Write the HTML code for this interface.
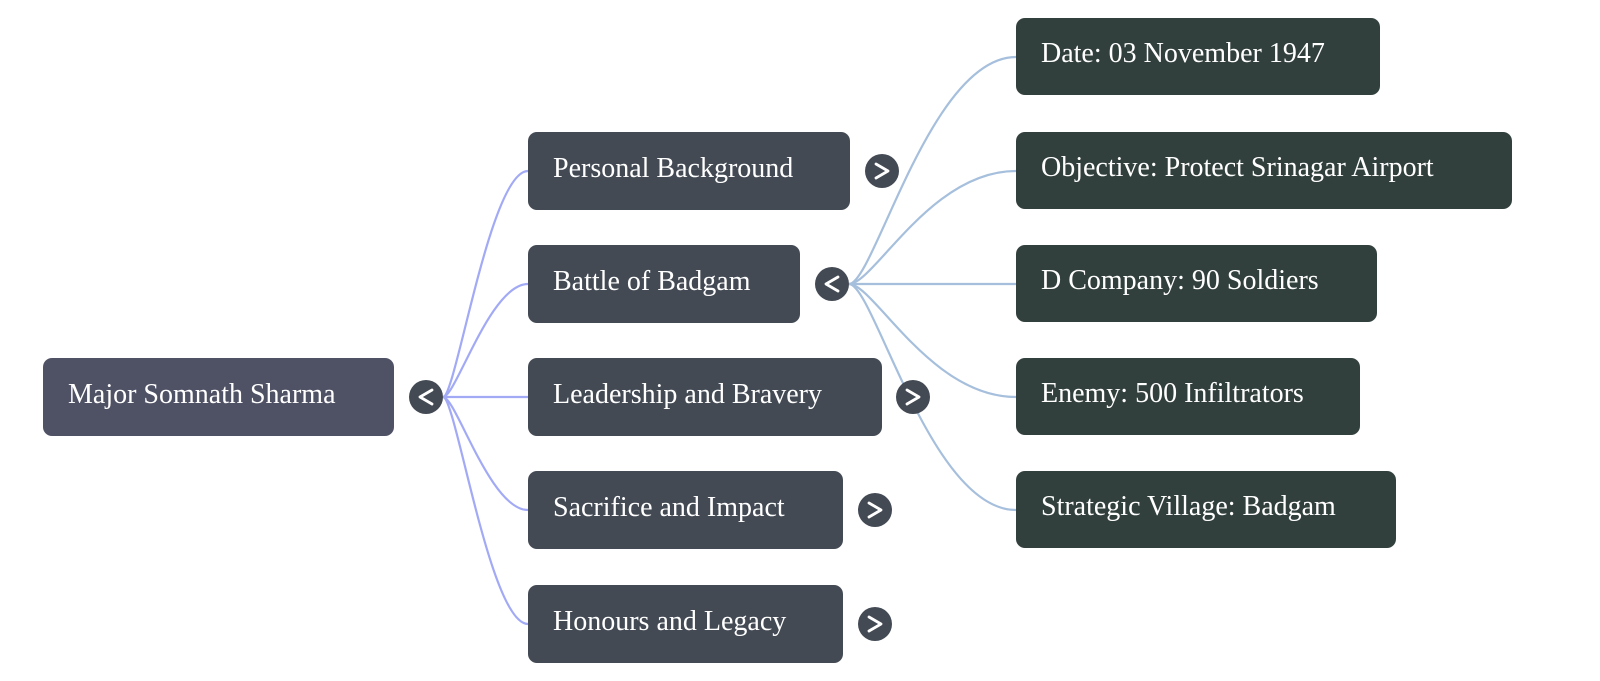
<!DOCTYPE html>
<html><head><meta charset="utf-8"><style>
html,body{margin:0;padding:0;background:#fff;width:1600px;height:681px;overflow:hidden}
</style></head><body>
<svg width="1600" height="681" viewBox="0 0 1600 681" xmlns="http://www.w3.org/2000/svg">
<g fill="none" stroke="#a2aaf6" stroke-width="2.2">
<path d="M443 397 C456 397 490 171 528 171"/>
<path d="M443 397 C456 397 490 284 528 284"/>
<path d="M443 397 L528 397"/>
<path d="M443 397 C456 397 490 510 528 510"/>
<path d="M443 397 C456 397 490 624 528 624"/>
</g>
<g fill="none" stroke="#a6bfdc" stroke-width="2.2">
<path d="M849 284 C874 284 930 57 1016 57"/>
<path d="M849 284 C874 284 930 171 1016 171"/>
<path d="M849 284 L1016 284"/>
<path d="M849 284 C874 284 930 397 1016 397"/>
<path d="M849 284 C874 284 930 510 1016 510"/>
</g>
<g font-family="Liberation Serif, serif" font-size="28" fill="#fff">
<rect x="43" y="358" width="351" height="78" rx="9" fill="#4f5165"/>
<text x="68" y="403">Major Somnath Sharma</text>

<rect x="528" y="132" width="322" height="78" rx="9" fill="#434a54"/>
<text x="553" y="177">Personal Background</text>
<rect x="528" y="245" width="272" height="78" rx="9" fill="#434a54"/>
<text x="553" y="290">Battle of Badgam</text>
<rect x="528" y="358" width="354" height="78" rx="9" fill="#434a54"/>
<text x="553" y="403">Leadership and Bravery</text>
<rect x="528" y="471" width="315" height="78" rx="9" fill="#434a54"/>
<text x="553" y="516">Sacrifice and Impact</text>
<rect x="528" y="585" width="315" height="78" rx="9" fill="#434a54"/>
<text x="553" y="630">Honours and Legacy</text>

<rect x="1016" y="18" width="364" height="77" rx="9" fill="#32403d"/>
<text x="1041" y="62">Date: 03 November 1947</text>
<rect x="1016" y="132" width="496" height="77" rx="9" fill="#32403d"/>
<text x="1041" y="176">Objective: Protect Srinagar Airport</text>
<rect x="1016" y="245" width="361" height="77" rx="9" fill="#32403d"/>
<text x="1041" y="289">D Company: 90 Soldiers</text>
<rect x="1016" y="358" width="344" height="77" rx="9" fill="#32403d"/>
<text x="1041" y="402">Enemy: 500 Infiltrators</text>
<rect x="1016" y="471" width="380" height="77" rx="9" fill="#32403d"/>
<text x="1041" y="515">Strategic Village: Badgam</text>
</g>
<g fill="#434a54">
<circle cx="426" cy="397" r="17"/>
<circle cx="882" cy="171" r="17"/>
<circle cx="832" cy="284" r="17"/>
<circle cx="913" cy="397" r="17"/>
<circle cx="875" cy="510" r="17"/>
<circle cx="875" cy="624" r="17"/>
</g>
<g fill="none" stroke="#fff" stroke-width="2.8" stroke-linecap="round" stroke-linejoin="round">
<path d="M432 390 L420 397 L432 404"/>
<path d="M876 164 L888 171 L876 178"/>
<path d="M838 277 L826 284 L838 291"/>
<path d="M907 390 L919 397 L907 404"/>
<path d="M869 503 L881 510 L869 517"/>
<path d="M869 617 L881 624 L869 631"/>
</g>
</svg>
</body></html>
